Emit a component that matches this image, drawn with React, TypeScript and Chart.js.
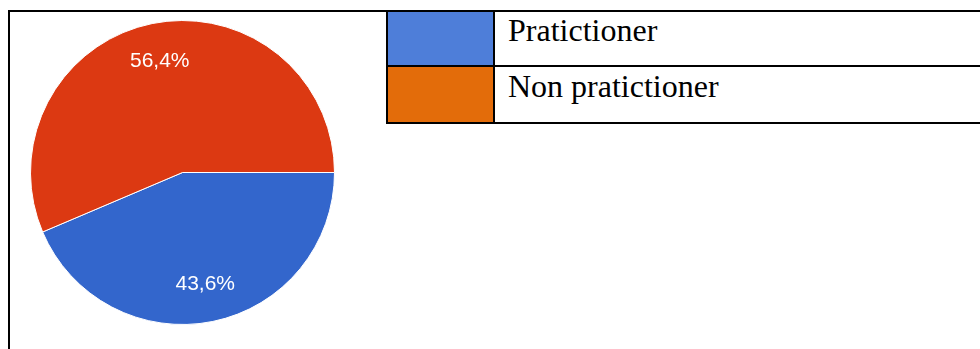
import React, { useEffect, useRef } from "react";
import { Chart, registerables } from "chart.js";

Chart.register(...registerables);

const categories = ["Pratictioner", "Non pratictioner"];
const values = [43.6, 56.4];
const pieColors = ["#3366CC", "#DC3912"];
const legendColors = ["#4E7ED9", "#E36C0A"];

const sliceLabels = {
  id: "sliceLabels",
  afterDatasetsDraw(chart: any) {
    const ctx = chart.ctx;
    const meta = chart.getDatasetMeta(0);
    const data = chart.data.datasets[0].data as number[];
    const total = data.reduce((a, b) => a + b, 0);
    ctx.save();
    ctx.fillStyle = "#FFFFFF";
    ctx.font = '21px "Liberation Sans", Arial, sans-serif';
    ctx.textAlign = "center";
    ctx.textBaseline = "middle";
    meta.data.forEach((arc: any, i: number) => {
      const p = arc.getProps(["x", "y", "startAngle", "endAngle", "outerRadius"], true);
      const mid = (p.startAngle + p.endAngle) / 2;
      const r = p.outerRadius * 0.75;
      const pct = ((data[i] / total) * 100).toFixed(1).replace(".", ",") + "%";
      ctx.fillText(pct, p.x + Math.cos(mid) * r, p.y + Math.sin(mid) * r);
    });
    ctx.restore();
  },
};

const line = (left: number, top: number, width: number, height: number) => (
  <div
    style={{
      position: "absolute",
      left,
      top,
      width,
      height,
      background: "#000",
    }}
  />
);

export default function App() {
  const ref = useRef<HTMLCanvasElement>(null);

  useEffect(() => {
    document.body.style.margin = "0";
    const chart = new Chart(ref.current!, {
      type: "pie",
      data: {
        labels: categories,
        datasets: [
          {
            data: values,
            backgroundColor: pieColors,
            borderColor: "#FFFFFF",
            borderWidth: 1,
          },
        ],
      },
      options: {
        animation: false,
        responsive: false,
        rotation: 90,
        layout: { padding: 0 },
        plugins: {
          legend: { display: false },
          tooltip: { enabled: false },
        },
      },
      plugins: [sliceLabels],
    });
    return () => chart.destroy();
  }, []);

  const rowTops = [12, 67];
  return (
    <div
      style={{
        position: "fixed",
        left: 0,
        top: 0,
        width: 980,
        height: 349,
        background: "#fff",
        overflow: "hidden",
      }}
    >
      <canvas
        ref={ref}
        width={305}
        height={305}
        style={{ position: "absolute", left: 29.5, top: 19.5, width: 305, height: 305 }}
      />
      {/* outer frame */}
      {line(8, 10, 972, 2)}
      {line(8, 10, 2, 339)}
      {/* legend table */}
      {line(386, 10, 2, 114)}
      {line(493, 10, 2, 114)}
      {line(386, 65, 594, 2)}
      {line(386, 122, 594, 2)}
      {categories.map((c, i) => (
        <React.Fragment key={c}>
          <div
            style={{
              position: "absolute",
              left: 388,
              top: rowTops[i],
              width: 105,
              height: i === 0 ? 53 : 55,
              background: legendColors[i],
            }}
          />
          <div
            style={{
              position: "absolute",
              left: 508,
              top: i === 0 ? 12 : 68,
              fontFamily: '"Liberation Serif", "Times New Roman", serif',
              fontSize: 32,
              color: "#000",
              whiteSpace: "nowrap",
            }}
          >
            {c}
          </div>
        </React.Fragment>
      ))}
    </div>
  );
}
